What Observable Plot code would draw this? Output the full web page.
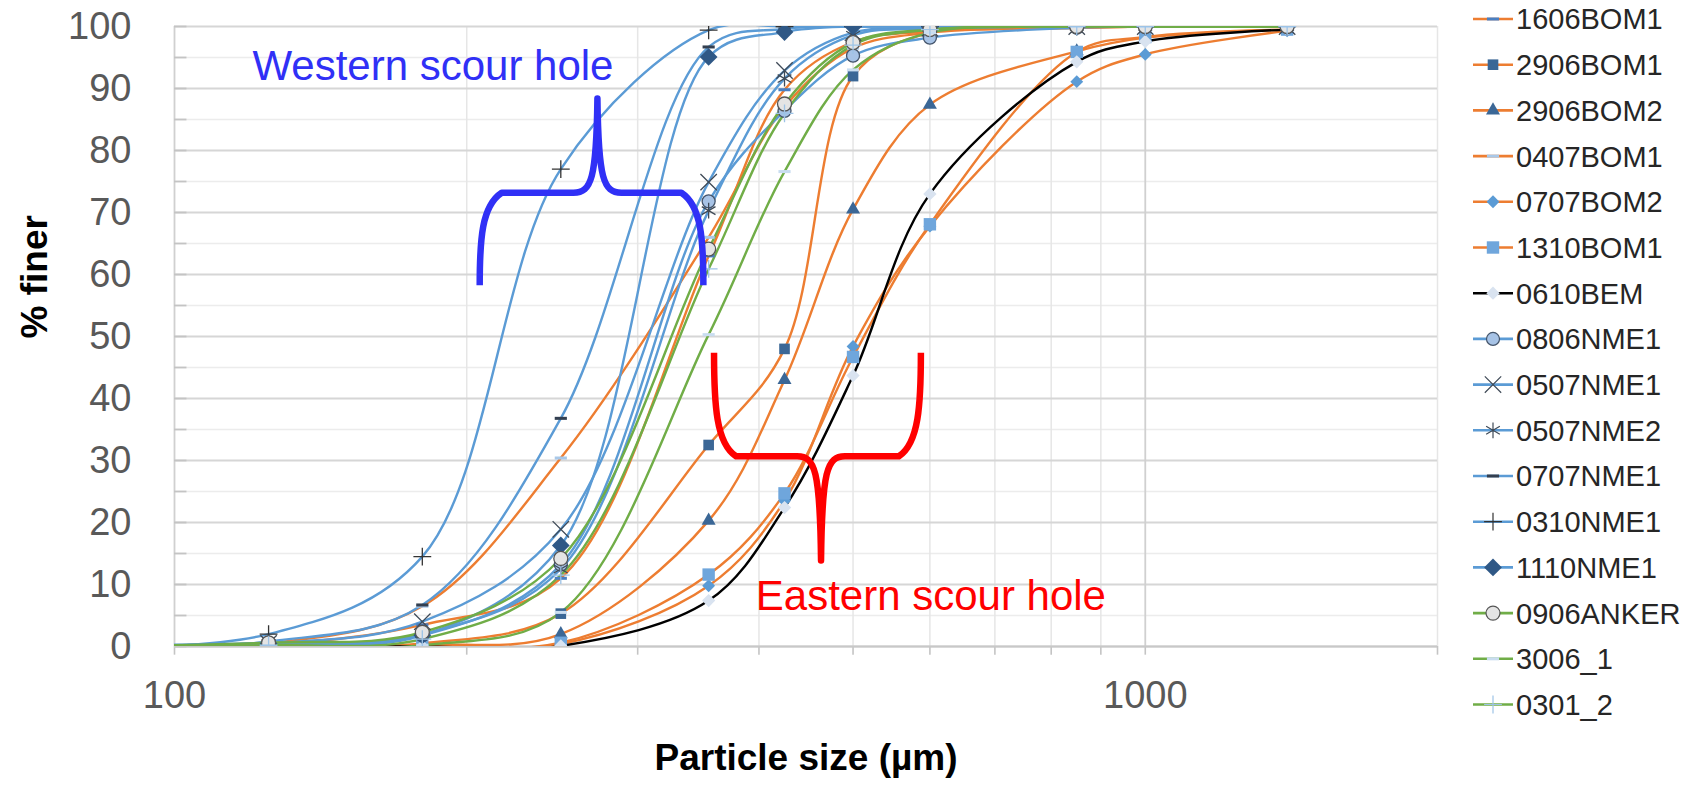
<!DOCTYPE html>
<html><head><meta charset="utf-8">
<script src="https://cdn.jsdelivr.net/npm/d3@7"></script>
<script src="https://cdn.jsdelivr.net/npm/@observablehq/plot@0.6"></script>
<style>
body{margin:0;background:#fff;}
#chart{position:relative;width:1685px;height:791px;overflow:hidden;background:#fff}
</style></head><body><div id="chart"></div>
<script>
// ---------- data ----------
const sizes = [63, 125, 180, 250, 355, 425, 500, 600, 850, 1000, 1400];

const v1606BOM1  = [0, 0.3, 3.5, 11.0, 63.0, 89.8, 97.5, 99.2, 99.8, 100, 100];
const v2906BOM1  = [0, 0.2, 0.5, 5.3, 32.5, 48.0, 92.0, 99.0, 99.8, 100, 100];
const v2906BOM2  = [0, 0.2, 0.3, 2.0, 20.3, 43.0, 70.5, 87.4, 96.0, 98.2, 99.5];
const v0407BOM1  = [0, 0.5, 6.5, 30.4, 66.0, 87.0, 96.5, 99.0, 99.8, 100, 100];
const v0707BOM2  = [0, 0.1, 0.2, 0.4, 9.8, 23.5, 48.4, 67.8, 91.1, 95.5, 99.3];
const v1310BOM1  = [0, 0.1, 0.2, 0.6, 11.6, 24.7, 46.7, 68.1, 95.9, 98.3, 99.5];
const v0610BEM   = [0, 0, 0, 0.1, 7.4, 22.4, 43.7, 73.0, 94.3, 97.6, 99.5];
const v0806NME1  = [0, 0.6, 1.8, 13.2, 71.8, 86.4, 95.3, 98.2, 99.8, 100, 100];
const v0507NME1  = [0, 0.5, 4.0, 18.9, 74.9, 92.9, 99.0, 99.7, 100, 100, 100];
const v0507NME2  = [0, 0.5, 2.0, 12.5, 70.3, 91.6, 98.6, 99.7, 100, 100, 100];
const v0707NME1  = [0, 0.8, 6.7, 36.8, 96.7, 99.6, 100, 100, 100, 100, 100];
const v0310NME1  = [0, 2.0, 14.5, 77.0, 99.4, 100, 100, 100, 100, 100, 100];
const v1110NME1  = [0, 0.5, 1.8, 16.3, 95.1, 99.1, 100, 100, 100, 100, 100];
const v0906ANKER = [0, 0.6, 2.3, 14.2, 64.1, 87.5, 97.4, 99.5, 100, 100, 100];
const v3006_1    = [0, 0.1, 0.2, 5.5, 50.3, 76.6, 93.0, 99.0, 100, 100, 100];
const v0301_2    = [0, 0.2, 1.2, 11.5, 60.9, 86.0, 97.0, 99.5, 100, 100, 100];

const seriesNames = ["1606BOM1","2906BOM1","2906BOM2","0407BOM1","0707BOM2","1310BOM1","0610BEM",
  "0806NME1","0507NME1","0507NME2","0707NME1","0310NME1","1110NME1","0906ANKER","3006_1","0301_2"];
const seriesValues = [v1606BOM1,v2906BOM1,v2906BOM2,v0407BOM1,v0707BOM2,v1310BOM1,v0610BEM,
  v0806NME1,v0507NME1,v0507NME2,v0707NME1,v0310NME1,v1110NME1,v0906ANKER,v3006_1,v0301_2];

const yMajorTicks = [0,10,20,30,40,50,60,70,80,90,100];
const yMinorTicks = [5,15,25,35,45,55,65,75,85,95];
const xMajorTicks = [100, 1000];
const xMinorTicks = [200,300,400,500,600,700,800,900,2000];
const xTickLabels = ["100", "1000"];

const annotations = [
  {label: "Western scour hole", x: 120.3, y: 93.6, color: "#3030f6"},
  {label: "Eastern scour hole", x: 397, y: 8.0, color: "#ff0000"}
];
// braces: left x, centre x, right x, end y, bar y, tip y
const braces = [
  {xl: 206.5, xc: 273, xr: 351, yEnd: 58.2, yBar: 73.1, yTip: 88.3, color: "#3030f6"},
  {xl: 360, xc: 464, xr: 588, yEnd: 47.3, yBar: 30.6, yTip: 13.8, color: "#ff0000"}
];

// ---------- styles ----------
const ORANGE = "#ED7D31", BLUE = "#5B9BD5", GREEN = "#70AD47", BLACK = "#000000";
const dash = {draw(ctx, size) { const r = Math.sqrt(size / Math.PI); ctx.rect(-1.6*r, -0.4*r, 3.2*r, 0.8*r); }};
const styles = {
  "1606BOM1":  {line: ORANGE, symbol: dash, r: 3.8, fill: "#4a7fc1", stroke: "none"},
  "2906BOM1":  {line: ORANGE, symbol: d3.symbolSquare, r: 6.0, fill: "#3b6796", stroke: "none"},
  "2906BOM2":  {line: ORANGE, symbol: d3.symbolTriangle, r: 5.2, fill: "#3b6796", stroke: "none"},
  "0407BOM1":  {line: ORANGE, symbol: dash, r: 3.8, fill: "#a9c8e8", stroke: "none"},
  "0707BOM2":  {line: ORANGE, symbol: d3.symbolDiamond2, r: 5.8, fill: "#5b9bd5", stroke: "none"},
  "1310BOM1":  {line: ORANGE, symbol: d3.symbolSquare, r: 7.0, fill: "#6fa6dc", stroke: "none"},
  "0610BEM":   {line: BLACK,  symbol: d3.symbolDiamond2, r: 6.0, fill: "#d9e3f0", stroke: "none"},
  "0806NME1":  {line: BLUE,   symbol: d3.symbolCircle, r: 6.5, fill: "#a7c3e6", stroke: "#44546a"},
  "0507NME1":  {line: BLUE,   symbol: d3.symbolTimes, r: 7.5, fill: "none", stroke: "#3f4a57"},
  "0507NME2":  {line: BLUE,   symbol: d3.symbolAsterisk, r: 7.5, fill: "none", stroke: "#3f4a57"},
  "0707NME1":  {line: BLUE,   symbol: dash, r: 3.8, fill: "#333f50", stroke: "none"},
  "0310NME1":  {line: BLUE,   symbol: d3.symbolPlus, r: 5.8, fill: "none", stroke: "#333333"},
  "1110NME1":  {line: BLUE,   symbol: d3.symbolDiamond2, r: 8.0, fill: "#2f5886", stroke: "none"},
  "0906ANKER": {line: GREEN,  symbol: d3.symbolCircle, r: 7.0, fill: "#e4e4e4", stroke: "#555555"},
  "3006_1":    {line: GREEN,  symbol: dash, r: 3.8, fill: "#c9ddf0", stroke: "none"},
  "0301_2":    {line: GREEN,  symbol: d3.symbolPlus, r: 5.8, fill: "none", stroke: "#9dc3e6"}
};

const rows = seriesNames.map((name, i) => sizes.map((s, j) => ({name, size: s, pct: seriesValues[i][j]})));

// ---------- custom marks ----------
function braceMark(index, scales) {
  const g = d3.create("svg:g");
  for (const b of braces) {
    const xl = scales.x(b.xl), xc = scales.x(b.xc), xr = scales.x(b.xr);
    const ye = scales.y(b.yEnd), yb = scales.y(b.yBar), yt = scales.y(b.yTip);
    const s = Math.sign(ye - yb);
    const rc = 22, rs = 24;
    const p = d3.path();
    p.moveTo(xl, ye);
    p.bezierCurveTo(xl, ye - s*(Math.abs(ye-yb)*0.5), xl + 2, yb + s*rc*0.6, xl + rc, yb);
    p.lineTo(xc - rs, yb);
    p.bezierCurveTo(xc - 6, yb, xc - 1, yb - s*14, xc, yt);
    p.bezierCurveTo(xc + 1, yb - s*14, xc + 6, yb, xc + rs, yb);
    p.lineTo(xr - rc, yb);
    p.bezierCurveTo(xr - 2, yb + s*rc*0.6, xr, ye - s*(Math.abs(ye-yb)*0.5), xr, ye);
    g.append("path").attr("d", p.toString()).attr("fill", "none")
      .attr("stroke", b.color).attr("stroke-width", 6.5).attr("stroke-linejoin", "round");
  }
  return g.node();
}

function legendMark(index, scales, values, dims) {
  const g = d3.create("svg:g").attr("text-anchor", "start");
  const x0 = dims.width - dims.marginRight + 36;
  const top = 19, step = 45.7;
  seriesNames.forEach((name, i) => {
    const st = styles[name];
    const y = top + i * step;
    g.append("line").attr("x1", x0).attr("x2", x0 + 40).attr("y1", y).attr("y2", y)
      .attr("stroke", st.line).attr("stroke-width", 2.6);
    g.append("path").attr("transform", `translate(${x0 + 20},${y})`)
      .attr("d", d3.symbol(st.symbol, Math.PI * st.r * st.r)())
      .attr("fill", st.fill).attr("stroke", st.stroke).attr("stroke-width", 1.2);
    g.append("text").attr("x", x0 + 43).attr("y", y).attr("dy", "0.36em")
      .attr("text-anchor", "start")
      .attr("font-size", 29).attr("fill", "#262626").text(name);
  });
  return g.node();
}

// ---------- marks ----------
const marks = [
  Plot.ruleY(yMinorTicks, {stroke: "#ececec", strokeWidth: 1.5}),
  Plot.ruleX(xMinorTicks, {stroke: "#e6e6e6", strokeWidth: 1.5}),
  Plot.ruleY(yMajorTicks, {stroke: "#d6d6d6", strokeWidth: 1.8}),
  Plot.ruleX(xMajorTicks, {stroke: "#d0d0d0", strokeWidth: 1.8}),
  Plot.ruleY(yMajorTicks.concat(yMinorTicks), {x1: 100, x2: 103, stroke: "#c4c4c4", strokeWidth: 1.8}),
  Plot.ruleX(xMajorTicks.concat(xMinorTicks), {y1: 0, y2: -1.4, stroke: "#c4c4c4", strokeWidth: 1.6}),
  Plot.ruleY([0], {stroke: "#c8c8c8", strokeWidth: 2})
];

rows.forEach((data, i) => {
  const st = styles[seriesNames[i]];
  marks.push(Plot.line(data, {x: "size", y: "pct", stroke: st.line, strokeWidth: 2.4, curve: "catmull-rom", clip: true}));
});
rows.forEach((data, i) => {
  const st = styles[seriesNames[i]];
  marks.push(Plot.dot(data, {x: "size", y: "pct", symbol: st.symbol, r: st.r, fill: st.fill, stroke: st.stroke, strokeWidth: 1.3, clip: true}));
});

marks.push(
  braceMark,
  Plot.text(annotations, {x: "x", y: "y", text: "label", fill: "color", textAnchor: "start", fontSize: 42}),
  Plot.text(yMajorTicks, {y: d => d, text: d => String(d), frameAnchor: "left", dx: -43, textAnchor: "end", fontSize: 38, fill: "#595959"}),
  Plot.text(xTickLabels, {x: d => +d, text: d => d, frameAnchor: "bottom", dy: 61, fontSize: 38, fill: "#595959"}),
  Plot.text(["Particle size (µm)"], {frameAnchor: "bottom", dy: 123, fontSize: 37, fontWeight: "bold", fill: "#000"}),
  Plot.text(["% finer"], {frameAnchor: "left", dx: -139, dy: 2, rotate: -90, fontSize: 37, fontWeight: "bold", fill: "#000"}),
  legendMark
);

const chart = Plot.plot({
  width: 1685,
  height: 791,
  marginLeft: 174,
  marginRight: 248,
  marginTop: 26,
  marginBottom: 145,
  x: {type: "log", domain: [100, 2000], axis: null},
  y: {domain: [0, 100], axis: null},
  style: {fontFamily: "Liberation Sans, Arial, sans-serif", background: "#fff", overflow: "visible"},
  marks
});
document.getElementById("chart").appendChild(chart);
</script>
</body></html>
